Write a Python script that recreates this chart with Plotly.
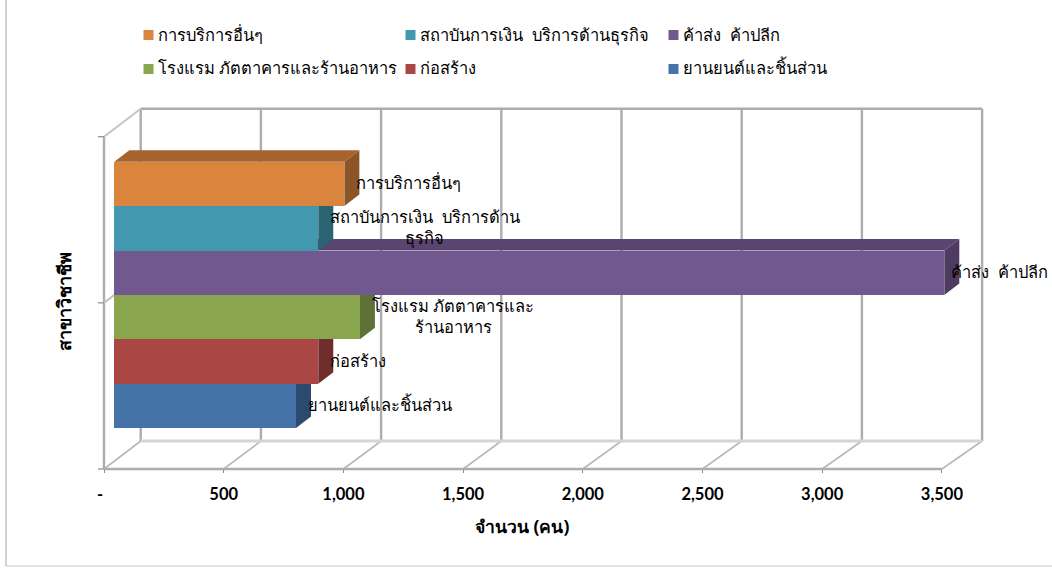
import plotly.graph_objects as go

# ---------- data ----------
SP = "\u00a0\u00a0"
categories = ["ยานยนต์และชิ้นส่วน", "ก่อสร้าง", "โรงแรม\u00a0ภัตตาคารและร้านอาหาร",
              "ค้าส่ง" + SP + "ค้าปลีก", "สถาบันการเงิน" + SP + "บริการด้านธุรกิจ", "การบริการอื่นๆ"]
values = [759, 852, 1026, 3467, 852, 961]
label_texts = ["ยานยนต์และชิ้นส่วน", "ก่อสร้าง", "โรงแรม\u00a0ภัตตาคารและ<br>ร้านอาหาร",
               "ค้าส่ง" + SP + "ค้าปลีก", "สถาบันการเงิน" + SP + "บริการด้าน<br>ธุรกิจ", "การบริการอื่นๆ"]
front_colors = ["#4572A7", "#AA4643", "#89A54E", "#71588F", "#4198AF", "#DB843D"]
top_colors = ["#37597F", "#853735", "#6B803D", "#5A4570", "#337788", "#A7632D"]
side_colors = ["#2C4A6D", "#6F2D2C", "#5E7136", "#4D3B62", "#2A6473", "#8C5527"]
tick_values = [0, 500, 1000, 1500, 2000, 2500, 3000, 3500]
tick_labels = ["-\u00a0\u00a0", "500", "1,000", "1,500", "2,000", "2,500", "3,000", "3,500"]
axis_title_x = "จำนวน (คน)"
axis_title_y = "สาขาวิชาชีพ"

# ---------- oblique view (chart units) ----------
W, H = 1052, 568
PX_PER_VALUE = 119.7 / 500
PX_PER_CAT = 44.4
WALL_DX, WALL_DY = 36.7 / PX_PER_VALUE, 28 / PX_PER_CAT
BACK_SCALE = 120.2 / 119.7
BAR_OX = 10.3 / PX_PER_VALUE
BAR_DX, BAR_DY = 15 / PX_PER_VALUE, 11.5 / PX_PER_CAT
FLOOR = (405.9 - 469) / PX_PER_CAT
TOP = (405.9 - 136.7) / PX_PER_CAT
MID = (FLOOR + TOP) / 2
XMIN = -104 / PX_PER_VALUE
XMAX = XMIN + W / PX_PER_VALUE
YMAX = 405.9 / PX_PER_CAT
YMIN = YMAX - H / PX_PER_CAT
WALL = "#adadad"
FONT_TH = "Noto Sans, Tahoma, sans-serif"
TEXT = "#000000"

fig = go.Figure()

def wall(xs, ys, width=2.4, color=WALL):
    fig.add_trace(go.Scatter(x=xs, y=ys, mode="lines", line=dict(color=color, width=width),
                             showlegend=False, hoverinfo="skip", zorder=0))

def back_x(t):
    return t * BACK_SCALE + WALL_DX

# back wall, floor, left wall
for t in tick_values:
    wall([back_x(t), back_x(t)], [FLOOR + WALL_DY, TOP + WALL_DY])
    wall([t, back_x(t)], [FLOOR, FLOOR + WALL_DY], color="#b8b8b8", width=1.6)
wall([0, 3500], [FLOOR, FLOOR])
wall([back_x(0), back_x(3500)], [FLOOR + WALL_DY, FLOOR + WALL_DY], color="#d4d4d4", width=3)
wall([back_x(0), back_x(3500)], [TOP + WALL_DY, TOP + WALL_DY])
wall([0, 0], [FLOOR, TOP])
wall([0, back_x(0)], [TOP, TOP + WALL_DY], color="#c4c4c4", width=2)
wall([0, back_x(0)], [MID, MID + WALL_DY], color="#c4c4c4", width=2)
for lv in (FLOOR, MID, TOP):
    wall([-6 / PX_PER_VALUE, 0], [lv, lv], color="#8c8c8c", width=1.2)

# bars: rear faces first, then the front face
for rank in range(len(values) - 1, -1, -1):
    v, c = values[rank], categories[rank]
    z = 2 * rank + 1
    x0, x1 = BAR_OX, BAR_OX + v
    lo, hi = rank - 0.5, rank + 0.5
    fig.add_trace(go.Scatter(
        x=[x0, x0 + BAR_DX, x1 + BAR_DX, x1, x0],
        y=[hi, hi + BAR_DY, hi + BAR_DY, hi, hi],
        mode="lines", fill="toself", fillcolor=top_colors[rank], line=dict(width=0),
        showlegend=False, hoverinfo="skip", zorder=z))
    fig.add_trace(go.Scatter(
        x=[x1, x1 + BAR_DX, x1 + BAR_DX, x1, x1],
        y=[lo, lo + BAR_DY, hi + BAR_DY, hi, lo],
        mode="lines", fill="toself", fillcolor=side_colors[rank], line=dict(width=0),
        showlegend=False, hoverinfo="skip", zorder=z))
    fig.add_trace(go.Bar(
        y=[rank], x=[v], base=[BAR_OX], width=[1], orientation="h", name=c,
        marker=dict(color=front_colors[rank], line=dict(width=0)),
        showlegend=False, zorder=z + 1))

# data labels
shifts = [10, 10, 10, 5, 10, 10]
for i, (v, t) in enumerate(zip(values, label_texts)):
    fig.add_annotation(x=BAR_OX + v, y=i, text=t, xref="x", yref="y", showarrow=False,
                       xanchor="left", xshift=shifts[i], yshift=1, align="center",
                       font=dict(family=FONT_TH, size=16.5, color=TEXT))

# axis titles
fig.add_annotation(text="<b>" + axis_title_x + "</b>", xref="paper", yref="paper", x=522 / W, y=1 - 526 / H,
                   xanchor="center", yanchor="middle", showarrow=False,
                   font=dict(family=FONT_TH, size=17.5, color=TEXT))
fig.add_annotation(text="<b>" + axis_title_y + "</b>", xref="paper", yref="paper", x=64 / W, y=1 - 302 / H,
                   xanchor="center", yanchor="middle", showarrow=False, textangle=-90,
                   font=dict(family=FONT_TH, size=18, color=TEXT))

# legend: three columns, two rows, swatch close to its text
legend_rows = [[5, 4, 3], [2, 1, 0]]
legend_row_y = [35, 69]
legend_col_x = [143.5, 405.5, 668.5]
shapes = [
    dict(type="line", xref="paper", yref="paper", x0=6 / W, x1=6 / W, y0=1 - 566 / H, y1=1,
         line=dict(color="#a8a8a8", width=1)),
    dict(type="line", xref="paper", yref="paper", x0=6 / W, x1=1, y0=1 - 566 / H, y1=1 - 566 / H,
         line=dict(color="#c8c8c8", width=1)),
]
for row, ly in zip(legend_rows, legend_row_y):
    for idx, lx in zip(row, legend_col_x):
        shapes.append(dict(type="rect", xref="paper", yref="paper",
                           x0=lx / W, x1=(lx + 10) / W, y0=1 - (ly - 5) / H, y1=1 - (ly + 5) / H,
                           fillcolor=front_colors[idx], line=dict(width=0)))
        fig.add_annotation(text=categories[idx], xref="paper", yref="paper",
                           x=(lx + 12.5) / W, y=1 - (ly - 1) / H,
                           xanchor="left", yanchor="middle", showarrow=False,
                           font=dict(family=FONT_TH, size=16.5, color=TEXT))

fig.update_layout(
    width=W, height=H, autosize=False, barmode="overlay", bargap=0, showlegend=False,
    margin=dict(l=0, r=0, t=0, b=0), paper_bgcolor="white", plot_bgcolor="white",
    xaxis=dict(range=[XMIN, XMAX], anchor="free", position=1 - 469 / H, tickvals=tick_values,
               ticktext=tick_labels, showgrid=False, zeroline=False, showline=False,
               ticks="outside", ticklen=3, tickcolor="#8c8c8c", tickwidth=1, ticklabelstandoff=7,
               tickfont=dict(family="Lato, Open Sans, sans-serif", size=16.5, color=TEXT, weight="bold")),
    yaxis=dict(range=[YMIN, YMAX], visible=False, fixedrange=True),
    shapes=shapes,
)
fig.write_html("out.html", config={"displayModeBar": False},
               post_script='document.body.style.margin="0";document.documentElement.style.overflow="hidden";')
